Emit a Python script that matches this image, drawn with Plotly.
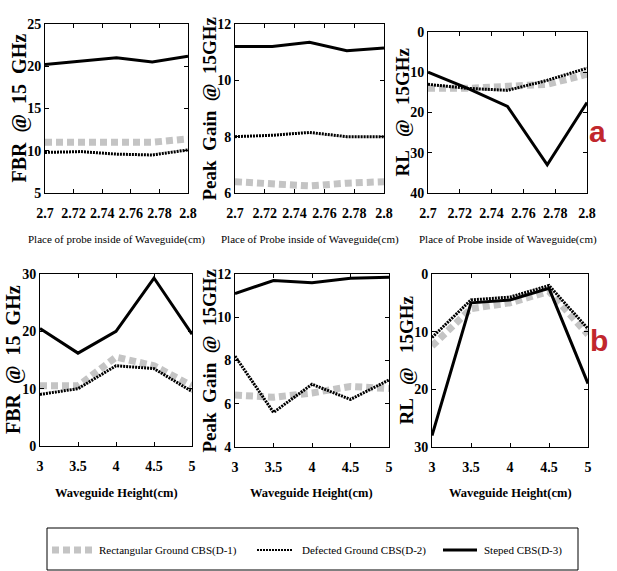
import plotly.graph_objects as go

W, H = 617, 571

# ---------- data ----------
probe_x = [2.7, 2.725, 2.75, 2.775, 2.8]
height_x = [3, 3.5, 4, 4.5, 5]

series_names = ["Rectangular Ground CBS(D-1)", "Defected Ground CBS(D-2)", "Steped CBS(D-3)"]

fbr_probe_d1 = [11.0, 11.0, 10.8, 11.0, 11.4]
fbr_probe_d2 = [9.8, 9.9, 9.6, 9.5, 10.1]
fbr_probe_d3 = [20.2, 20.6, 21.0, 20.5, 21.2]

gain_probe_d1 = [6.4, 6.3, 6.25, 6.35, 6.4]
gain_probe_d2 = [8.0, 8.05, 8.15, 8.0, 8.0]
gain_probe_d3 = [11.2, 11.2, 11.35, 11.05, 11.15]

rl_probe_d1 = [14.0, 14.0, 13.5, 13.0, 10.5]
rl_probe_d2 = [13.0, 14.0, 14.5, 12.0, 9.0]
rl_probe_d3 = [10.0, 14.0, 18.5, 33.0, 17.5]

fbr_height_d1 = [10.5, 10.5, 15.5, 14.0, 10.5]
fbr_height_d2 = [9.0, 10.0, 14.0, 13.5, 9.5]
fbr_height_d3 = [20.5, 16.2, 20.0, 29.3, 19.5]

gain_height_d1 = [6.4, 6.3, 6.5, 6.8, 6.7]
gain_height_d2 = [8.2, 5.6, 6.9, 6.2, 7.1]
gain_height_d3 = [11.1, 11.7, 11.6, 11.8, 11.85]

rl_height_d1 = [12.5, 6.0, 5.0, 3.0, 10.5]
rl_height_d2 = [11.0, 4.5, 4.0, 2.0, 9.5]
rl_height_d3 = [28.0, 5.0, 4.5, 2.5, 19.0]

probe_ticks = [2.7, 2.72, 2.74, 2.76, 2.78, 2.8]
height_ticks = [3, 3.5, 4, 4.5, 5]

# ---------- styles ----------
styles = [
    dict(color="#c4c4c4", width=7, dash="7px,4px"),
    dict(color="black", width=3, dash="2px,1px"),
    dict(color="black", width=3, dash="solid"),
]

def px_x(p):
    return p / W

def px_y(p):
    return 1 - p / H

panels = [
    (probe_x, [fbr_probe_d1, fbr_probe_d2, fbr_probe_d3], (45, 188), (24, 193), [5, 25], [5, 10, 15, 20, 25], "FBR  @  15  GHz", 20, "Place of probe inside of Waveguide(cm)", probe_ticks, [2.7, 2.8]),
    (probe_x, [gain_probe_d1, gain_probe_d2, gain_probe_d3], (235, 384), (24, 193), [6, 12], [6, 8, 10, 12], "Peak  Gain  @  15GHz", 19, "Place of Probe inside of Waveguide(cm)", probe_ticks, [2.7, 2.8]),
    (probe_x, [rl_probe_d1, rl_probe_d2, rl_probe_d3], (428, 587), (32, 193), [40, 0], [0, 10, 20, 30, 40], "RL   @   15GHz", 19, "Place of Probe inside of Waveguide(cm)", probe_ticks, [2.7, 2.8]),
    (height_x, [fbr_height_d1, fbr_height_d2, fbr_height_d3], (40, 192), (274, 446), [0, 30], [0, 10, 20, 30], "FBR  @  15  GHz", 20, "Waveguide Height(cm)", height_ticks, [3, 5]),
    (height_x, [gain_height_d1, gain_height_d2, gain_height_d3], (235, 389), (274, 447), [4, 12], [4, 6, 8, 10, 12], "Peak  Gain  @  15GHz", 19, "Waveguide Height(cm)", height_ticks, [3, 5]),
    (height_x, [rl_height_d1, rl_height_d2, rl_height_d3], (432, 588), (274, 447), [30, 0], [0, 10, 20, 30], "RL   @   15GHz", 19, "Waveguide Height(cm)", height_ticks, [3, 5]),
]

fig = go.Figure()
layout = dict(
    width=W, height=H,
    margin=dict(l=0, r=0, t=0, b=0, autoexpand=False),
    paper_bgcolor="white", plot_bgcolor="white",
    showlegend=False,
    font=dict(family="Liberation Serif", color="black"),
)
annotations = []
shapes = []

tickfont = dict(family="Liberation Serif", size=14, color="black", weight="bold")

for i, (xd, ser, xdom, ydom, yr, yt, ytitle, ysize, xtitle, xt, xr) in enumerate(panels):
    idx = "" if i == 0 else str(i + 1)
    for s, st in zip(ser, styles):
        fig.add_trace(go.Scatter(x=xd, y=s, mode="lines", line=st,
                                 xaxis="x" + idx, yaxis="y" + idx, hoverinfo="skip"))
    layout["xaxis" + idx] = dict(
        domain=[px_x(xdom[0]), px_x(xdom[1])], anchor="y" + idx,
        range=xr, tickvals=xt, ticktext=[f"{v:g}" for v in xt], tickangle=0,
        ticks="inside", ticklen=4, tickcolor="black", mirror="ticks",
        showline=True, linecolor="black", linewidth=1, showgrid=False, zeroline=False,
        tickfont=tickfont, fixedrange=True, automargin=False, ticklabelstandoff=7,
    )
    layout["yaxis" + idx] = dict(
        domain=[px_y(ydom[1]), px_y(ydom[0])], anchor="x" + idx,
        range=yr, tickvals=yt,
        ticks="inside", ticklen=4, tickcolor="black", mirror="ticks",
        showline=True, linecolor="black", linewidth=1, showgrid=False, zeroline=False,
        tickfont=tickfont, fixedrange=True, automargin=False,
    )
    ycenter = (ydom[0] + ydom[1]) / 2
    annotations.append(dict(
        text=ytitle, xref="paper", yref="paper",
        x=px_x(xdom[0] - 26), y=px_y(ycenter), textangle=-90,
        showarrow=False, xanchor="center", yanchor="middle",
        font=dict(family="Liberation Serif", size=ysize, color="black", weight="bold"),
    ))
    top_row = i < 3
    annotations.append(dict(
        text=xtitle, xref="paper", yref="paper",
        x=px_x((xdom[0] + xdom[1]) / 2), y=px_y(239 if top_row else 493),
        showarrow=False, xanchor="center", yanchor="middle",
        font=dict(family="Liberation Serif", size=11 if top_row else 12.5, color="black",
                  weight="normal" if top_row else "bold"),
    ))

annotations.append(dict(text="a", xref="paper", yref="paper", x=px_x(608), y=px_y(113),
                        showarrow=False, font=dict(family="Liberation Sans", size=30, color="#c1272d", weight="bold")))
annotations.append(dict(text="b", xref="paper", yref="paper", x=px_x(610), y=px_y(340),
                        showarrow=False, font=dict(family="Liberation Sans", size=30, color="#c1272d", weight="bold")))

# legend box (manual)
shapes.append(dict(type="rect", xref="paper", yref="paper",
                   x0=px_x(47), x1=px_x(578), y0=px_y(570), y1=px_y(528),
                   line=dict(color="black", width=1), fillcolor="white"))
leg_y = px_y(550)
leg_items = [((52, 92), 97), ((257, 293), 300), ((443, 477), 482)]
for (seg, tx), st, name in zip(leg_items, styles, series_names):
    shapes.append(dict(type="line", xref="paper", yref="paper",
                       x0=px_x(seg[0]), x1=px_x(seg[1]), y0=leg_y, y1=leg_y,
                       line=dict(color=st["color"], width=st["width"] if st["dash"] != "2px,1px" else 2,
                                 dash=st["dash"])))
    annotations.append(dict(text=name, xref="paper", yref="paper", x=px_x(tx), y=leg_y,
                            xanchor="left", yanchor="middle", showarrow=False,
                            font=dict(family="Liberation Serif", size=11, color="black")))

layout["annotations"] = annotations
layout["shapes"] = shapes
fig.update_layout(**layout)
fig.write_html("out.html", config={"displayModeBar": False},
               post_script="document.body.style.margin='0';document.body.style.overflow='hidden';")
